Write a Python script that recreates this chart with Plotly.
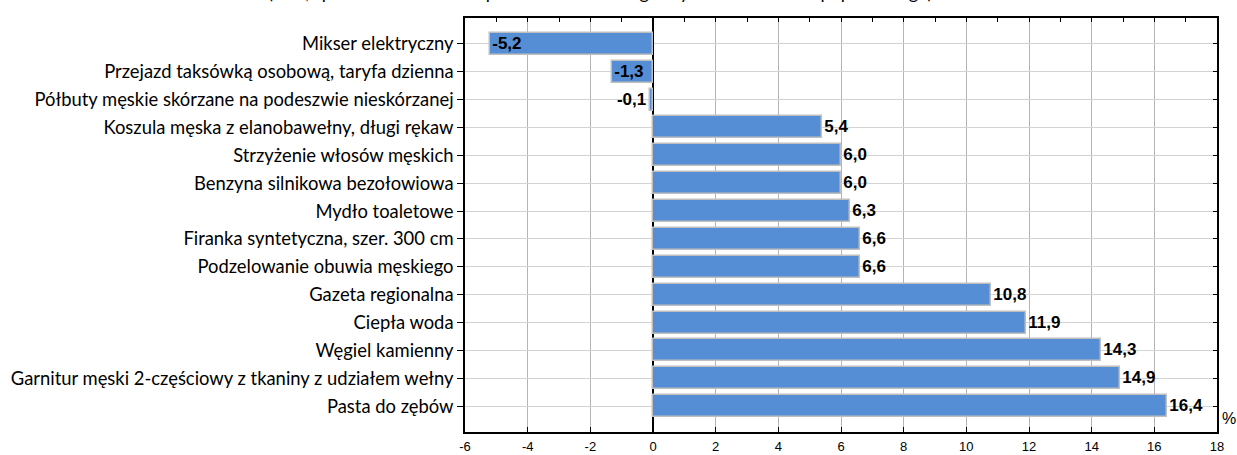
import plotly.graph_objects as go

categories = [
    "Mikser elektryczny",
    "Przejazd taksówką osobową, taryfa dzienna",
    "Półbuty męskie skórzane na podeszwie nieskórzanej",
    "Koszula męska z elanobawełny, długi rękaw",
    "Strzyżenie włosów męskich",
    "Benzyna silnikowa bezołowiowa",
    "Mydło toaletowe",
    "Firanka syntetyczna, szer. 300 cm",
    "Podzelowanie obuwia męskiego",
    "Gazeta regionalna",
    "Ciepła woda",
    "Węgiel kamienny",
    "Garnitur męski 2-częściowy z tkaniny z udziałem wełny",
    "Pasta do zębów",
]
values = [-5.2, -1.3, -0.1, 5.4, 6.0, 6.0, 6.3, 6.6, 6.6, 10.8, 11.9, 14.3, 14.9, 16.4]
labels = [f"{v:.1f}".replace(".", ",") for v in values]
positions = ["inside", "inside", "outside"] + ["outside"] * 11
x_ticks = list(range(-6, 19, 2))
title_text = "(w %, spadek/wzrost cen w porównaniu z analogicznym okresem roku poprzedniego)"

idx = list(range(len(categories)))

W, H = 1237, 455
L, R, T, B = 465, 20, 18, 23
PH = H - T - B
PW = W - L - R

fig = go.Figure()
fig.add_trace(go.Bar(
    y=idx, x=values, orientation="h",
    marker=dict(color="#558ED5", line=dict(color="#BFBFBF", width=1.5)),
    width=0.79,
    text=labels, textposition=positions, insidetextanchor="end",
    constraintext="none",
    textfont=dict(family="Liberation Sans", size=17, color="black", weight="bold"),
    cliponaxis=False, hoverinfo="skip",
))
# invisible companion trace so the mirrored top/right tick axes are drawn
fig.add_trace(go.Scatter(
    x=values, y=idx, xaxis="x2", yaxis="y2", mode="markers",
    marker=dict(opacity=0), hoverinfo="skip", showlegend=False,
))

fig.update_layout(
    width=W, height=H,
    margin=dict(l=L, r=R, t=T, b=B),
    plot_bgcolor="white", paper_bgcolor="white",
    showlegend=False,
    bargap=0,
    xaxis=dict(
        range=[-6, 18], tickvals=x_ticks, ticktext=[str(t) for t in x_ticks],
        showgrid=True, gridcolor="#B5B5B5", gridwidth=1,
        zeroline=True, zerolinecolor="black", zerolinewidth=1.5,
        showline=True, linecolor="black", linewidth=1.5, mirror=True,
        ticks="inside", ticklen=5, tickcolor="black",
        ticklabelstandoff=2, automargin=False,
        tickfont=dict(family="Liberation Sans", size=13, color="black"),
    ),
    xaxis2=dict(
        range=[-6, 18], overlaying="x", side="top", dtick=1, tick0=0,
        ticks="inside", ticklen=4, tickcolor="black", automargin=False,
        showticklabels=False, showgrid=False, zeroline=False, showline=False,
    ),
    yaxis=dict(
        range=[13.93, -0.93], tickvals=idx, ticktext=categories,
        showgrid=True, gridcolor="#D3D3D3", gridwidth=1,
        zeroline=False, automargin=False,
        showline=True, linecolor="black", linewidth=1.5, mirror=True,
        ticks="outside", ticklen=6, tickcolor="black",
        tickfont=dict(family="Lato", size=18.4, color="black"),
    ),
    yaxis2=dict(
        range=[13.93, -0.93], tickvals=idx, overlaying="y", side="right",
        ticks="inside", ticklen=4, tickcolor="black", automargin=False,
        showticklabels=False, showgrid=False, zeroline=False, showline=False,
    ),
    annotations=[
        dict(text="%", x=1.0, y=(432 - 418) / PH,
             xref="paper", yref="paper",
             xanchor="left", yanchor="middle", xshift=3, showarrow=False,
             font=dict(family="Liberation Sans", size=16, color="black")),
        dict(text=title_text, x=(600 - L) / PW, y=1 + (T - 5) / PH,
             xref="paper", yref="paper", xanchor="center", yanchor="bottom",
             showarrow=False, font=dict(family="Lato", size=18, color="black")),
    ],
)
fig.write_html(
    "out.html",
    config={"displayModeBar": False},
    post_script="document.body.style.margin='0';document.body.style.overflow='hidden';",
)
